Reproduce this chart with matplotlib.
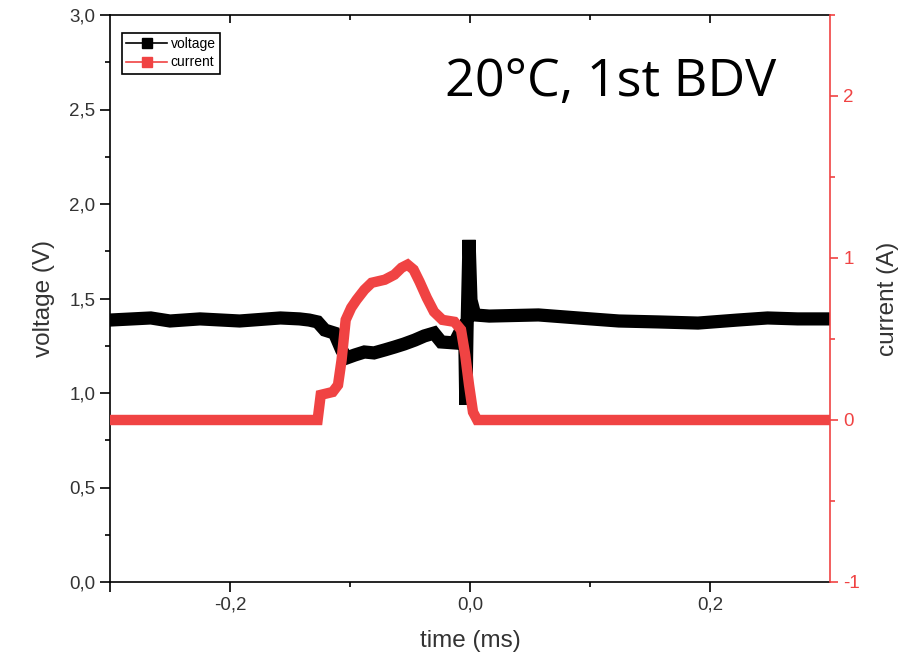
import matplotlib
matplotlib.use("Agg")
import matplotlib.pyplot as plt
from matplotlib.ticker import MultipleLocator, FixedLocator, NullFormatter

# voltage trace (time in ms, voltage in V)
v_time = [-0.300, -0.266, -0.250, -0.225, -0.192, -0.158, -0.142, -0.134, -0.127,
          -0.121, -0.113, -0.107, -0.103, -0.096, -0.088, -0.080, -0.071, -0.063,
          -0.055, -0.046, -0.038, -0.030, -0.024, -0.013, -0.0075, -0.0045, -0.0035,
          -0.0025, -0.0008, 0.0008, 0.004, 0.016, 0.057, 0.090, 0.124, 0.157, 0.190,
          0.223, 0.248, 0.273, 0.300]
voltage = [1.386, 1.397, 1.381, 1.392, 1.381, 1.397, 1.392, 1.386, 1.376,
           1.333, 1.317, 1.228, 1.185, 1.201, 1.217, 1.212, 1.228, 1.243,
           1.259, 1.280, 1.302, 1.317, 1.270, 1.265, 1.333, 1.360, 0.937,
           1.330, 1.810, 1.492, 1.413, 1.407, 1.413, 1.397, 1.381, 1.376, 1.370,
           1.386, 1.397, 1.392, 1.392]

# current trace (time in ms, current in A)
i_time = [-0.300, -0.127, -0.1244, -0.1144, -0.110, -0.107, -0.1036, -0.099, -0.0945,
          -0.088, -0.082, -0.071, -0.063, -0.057, -0.052, -0.047, -0.042, -0.036,
          -0.030, -0.023, -0.013, -0.0075, -0.004, -0.0008, 0.0025, 0.006, 0.300]
current = [0.0, 0.0, 0.155, 0.173, 0.216, 0.371, 0.618, 0.693, 0.742,
           0.804, 0.847, 0.866, 0.897, 0.940, 0.959, 0.928, 0.853, 0.754,
           0.668, 0.618, 0.606, 0.557, 0.402, 0.216, 0.049, 0.0, 0.0]

x_ticks = [-0.3, -0.2, 0.0, 0.2]
x_labels = ["", "-0,2", "0,0", "0,2"]
x_minor = [-0.1, 0.1]

RED = "#F04343"
GREY = "#333333"
plt.rcParams["font.family"] = ["Liberation Sans", "DejaVu Sans"]
plt.rcParams["axes.unicode_minus"] = False

fig = plt.figure(figsize=(9.12, 6.62), dpi=100)
ax = fig.add_axes([110 / 912, 80 / 662, 720 / 912, 567 / 662])
ax2 = ax.twinx()

ax.plot(v_time, voltage, color="black", lw=9.5, solid_joinstyle="miter", zorder=2)
ax2.plot(i_time, current, color=RED, lw=7.5, solid_joinstyle="miter", zorder=3)

ax.set_xlim(-0.3, 0.3)
ax.set_ylim(0, 3.0)
ax2.set_ylim(-1, 2.5)

ax.xaxis.set_major_locator(FixedLocator(x_ticks))
ax.set_xticklabels(x_labels)
ax.xaxis.set_minor_locator(FixedLocator(x_minor))
ax.yaxis.set_major_locator(MultipleLocator(0.5))
ax.yaxis.set_minor_locator(MultipleLocator(0.25))
ax.set_yticklabels([f"{v:.1f}".replace(".", ",") for v in ax.get_yticks()])
ax2.yaxis.set_major_locator(MultipleLocator(1))
ax2.yaxis.set_minor_locator(MultipleLocator(0.5))

# top axis: inward ticks, no labels
top = ax.secondary_xaxis("top")
top.xaxis.set_major_locator(FixedLocator([-0.2, 0.0, 0.2]))
top.xaxis.set_minor_locator(FixedLocator(x_minor))
top.xaxis.set_major_formatter(NullFormatter())
top.tick_params(which="major", direction="in", length=6, width=1.2)
top.tick_params(which="minor", direction="in", length=3.5, width=1.2)
top.spines["top"].set_linewidth(1.2)

ax.spines["top"].set_visible(False)
ax2.spines["top"].set_visible(False)
ax.spines["right"].set_visible(False)
ax2.spines["left"].set_visible(False)
ax2.spines["bottom"].set_visible(False)
ax2.spines["right"].set_color(RED)
ax.spines["left"].set_linewidth(1.2)
ax.spines["bottom"].set_linewidth(1.2)
ax2.spines["right"].set_linewidth(1.2)

ax.tick_params(which="major", direction="out", length=7, width=1.2,
               labelsize=13.5, labelcolor=GREY)
ax.tick_params(which="minor", direction="out", length=3.5, width=1.2)
ax2.tick_params(which="major", direction="out", length=6, width=1.2,
                color=RED, labelcolor=RED, labelsize=13.5)
ax2.tick_params(which="minor", direction="out", length=3.5, width=1.2, color=RED)

ax.set_xlabel("time (ms)", fontsize=17.5, color=GREY, labelpad=12)
ax.set_ylabel("voltage (V)", fontsize=17.5, color=GREY, labelpad=10)
ax2.set_ylabel("current (A)", fontsize=17.5, color=GREY, labelpad=12)

ax.text(0.465, 0.858, "20°C, 1st BDV", transform=ax.transAxes,
        fontsize=37.5, family="Open Sans", va="baseline", ha="left")

# legend handles drawn as line with square marker
hv, = ax.plot([], [], color="black", lw=1.2, marker="s", markersize=7.5)
hi, = ax.plot([], [], color=RED, lw=1.2, marker="s", markersize=7.5)
leg = ax.legend([hv, hi], ["voltage", "current"], loc="upper left",
                bbox_to_anchor=(0.017, 0.968), fontsize=10, fancybox=False,
                edgecolor="black", framealpha=1, handlelength=2.9,
                borderpad=0.3, labelspacing=0.3, handletextpad=0.3,
                borderaxespad=0)
leg.get_frame().set_linewidth(1.2)
leg.set_zorder(5)

fig.savefig("out.png", dpi=100)
